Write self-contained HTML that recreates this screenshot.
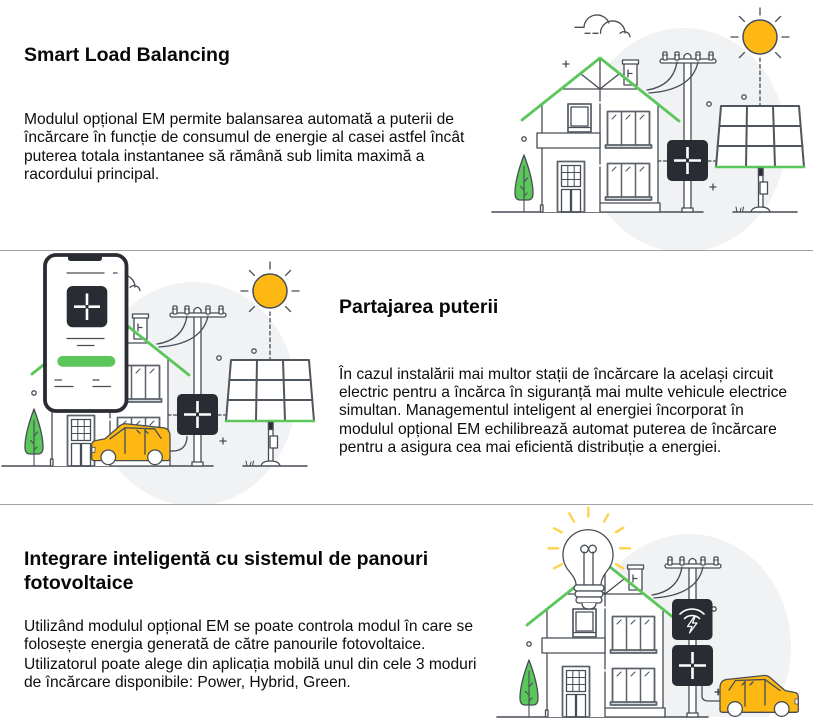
<!DOCTYPE html>
<html><head><meta charset="utf-8">
<style>
html,body{margin:0;padding:0;background:#fff;width:813px;height:718px;overflow:hidden;position:relative}
svg{position:absolute;left:0;top:0;display:block}
.t{position:absolute;font-family:"Liberation Sans",sans-serif;color:#0c0c0c;white-space:nowrap}
.h{font-weight:bold;font-size:19.5px;line-height:23.5px;color:#080808}
.p{font-size:15.6px;line-height:18.4px}
</style></head><body>
<svg width="813" height="718" viewBox="0 0 813 718" xmlns="http://www.w3.org/2000/svg">
<defs>
<clipPath id="c1"><rect x="0" y="0" width="813" height="250"/></clipPath>
<clipPath id="c2"><rect x="0" y="251" width="813" height="253"/></clipPath>
<clipPath id="c3"><rect x="0" y="505" width="813" height="213"/></clipPath>

<g id="house">
<g fill="none" stroke="#474d55" stroke-width="1.3" stroke-linecap="round" stroke-linejoin="round">
<line x1="492" y1="212" x2="703" y2="212" stroke-width="1.6"/>
<path d="M542,104 L600,58 L658,104 L658,212 L542,212 Z" fill="#fff" stroke="none"/>
<line x1="542" y1="104" x2="542" y2="212"/>
<line x1="658" y1="104" x2="658" y2="203"/>
<rect x="624" y="63" width="13" height="22" fill="#fff"/>
<rect x="622.5" y="60" width="16" height="4" fill="#fff"/>
<path d="M628,70 V77 M628,73.5 H632"/>
<path d="M563,89 H637 M581,74 L600,89 L619,74 M600,58 V89"/>
<line x1="600" y1="89" x2="600" y2="203" stroke-dasharray="12,3,60,3,200"/>
<rect x="537" y="133" width="63" height="15" fill="#fff"/>
<rect x="568" y="104" width="23" height="28" fill="#fff" stroke="#5d636b" stroke-width="1.8"/>
<rect x="571" y="107" width="17" height="19"/>
<line x1="569" y1="127.5" x2="590" y2="127.5"/>
<g stroke="#5d636b" stroke-width="1.8" fill="#fff">
<rect x="607.5" y="111.5" width="42" height="34"/>
<rect x="607.5" y="163.5" width="42" height="34"/>
<rect x="605.5" y="145" width="46" height="3" fill="#d5d8dc"/>
<rect x="605.5" y="197" width="46" height="3" fill="#d5d8dc"/>
</g>
<path d="M621.5,111.5 V145.5 M635.5,111.5 V145.5 M621.5,163.5 V197.5 M635.5,163.5 V197.5" stroke="#5d636b" stroke-width="1.5"/>
<path d="M612,119 L616,115 M626,119 L630,115 M640,119 L644,115 M612,171 L616,167 M626,171 L630,167 M640,171 L644,167" stroke-width="1"/>
<rect x="557.5" y="161.5" width="27" height="50.5" fill="#fff" stroke="#5d636b" stroke-width="1.8"/>
<rect x="561.5" y="165.5" width="19" height="21"/>
<path d="M567.8,165.5 V186.5 M574.2,165.5 V186.5 M561.5,172.5 H580.5 M561.5,179.5 H580.5" stroke-width="1"/>
<rect x="561.5" y="189.5" width="9" height="22.5"/>
<rect x="571.5" y="189.5" width="9" height="22.5"/>
<rect x="600" y="203" width="60" height="9" fill="#fff"/>
<rect x="540.5" y="205" width="2.5" height="7" fill="#fff"/>
<polyline points="522,120 600,58 679,121" stroke="#5bc65a" stroke-width="2.8"/>
<path d="M524,155 C521,163 515,180 515,193 Q515,200 520,200 H528 Q533,200 533,193 C533,180 527,163 524,155 Z" fill="#5bc65a"/>
<path d="M524,166 V212 M524,182 L527.5,178 M524,190 L520.5,186.5 M524,196 L527,193" stroke-width="1.1"/>
<path d="M684,211 V56 Q687.5,51 691,56 V211" fill="#fff"/>
<rect x="682" y="208" width="11" height="4" fill="#fff"/>
<rect x="660" y="59" width="56" height="4" rx="2" fill="#fff"/>
<g fill="#fff">
<rect x="663" y="52" width="4" height="8" rx="1"/>
<rect x="675" y="52" width="4" height="8" rx="1"/>
<rect x="696" y="52" width="4" height="8" rx="1"/>
<rect x="709" y="52" width="4" height="8" rx="1"/>
</g>
<path d="M662.5,55 H667.5 M674.5,55 H679.5 M695.5,55 H700.5 M708.5,55 H713.5" stroke-width="1"/>
<path d="M677,62 Q673,86 647,90 M698,62 Q692,90 649,93"/>
<circle cx="524" cy="139" r="2.2" fill="#fff"/>
<circle cx="709" cy="104" r="2.2" fill="#fff"/>
<path d="M563,64 H569 M566,61 V67 M710,187 H716 M713,184 V190"/>
<rect x="667" y="140" width="41" height="41" rx="5" fill="#2a2c33" stroke="none"/>
<path d="M674,160.5 H686 M689,160.5 H701 M687.5,147 V158.5 M687.5,162.5 V174" stroke="#fff" stroke-width="2.6" stroke-linecap="butt"/>
</g>
</g>

<g id="solar" fill="none" stroke="#474d55" stroke-width="1.3" stroke-linecap="round" stroke-linejoin="round">
<line x1="658" y1="161" x2="667" y2="161" stroke-dasharray="3,2.5"/>
<line x1="708" y1="161" x2="718" y2="161" stroke-dasharray="3,2.5"/>
<line x1="760" y1="58" x2="760" y2="105" stroke-dasharray="3.5,3"/>
<circle cx="760" cy="37" r="17" fill="#fdb813" stroke-width="1.5"/>
<path d="M760,15 V8 M744.4,21.4 L739.5,16.5 M775.6,21.4 L780.5,16.5 M738,37 H731 M782,37 H789 M744.4,52.6 L739.5,57.5 M775.6,52.6 L780.5,57.5"/>
<circle cx="744" cy="97" r="2.2" fill="#fff"/>
<polygon points="721,106 799,106 804,167 716,167" fill="#fff" stroke="#50565e" stroke-width="2"/>
<path d="M719.4,126 H800.6 M717.7,146 H802.4 M747,106 L746,167 M773,106 L775,167" stroke="#50565e" stroke-width="2"/>
<line x1="716" y1="167" x2="804" y2="167" stroke="#5bc65a" stroke-width="2.6"/>
<rect x="758.5" y="168.5" width="4.5" height="40" fill="#fff"/>
<rect x="758.5" y="168.5" width="4.5" height="7" fill="#2a2c33"/>
<rect x="760" y="182" width="7.5" height="12" fill="#fff"/>
<path d="M751,212 Q752,207 760.5,207 Q769,207 770,212" fill="#fff"/>
<line x1="733" y1="212" x2="797" y2="212" stroke-width="1.6"/>
<path d="M737,212 L736,207 M740,212 L741,208 M742.5,212 L743.5,207" stroke-width="1"/>
</g>

<g id="cloud" fill="none" stroke="#474d55" stroke-width="1.3" stroke-linecap="round">
<path d="M575,27.3 H583 M584,27.3 A13,13 0 0 1 609,23 M600.5,33.3 A12,12 0 0 1 625,33 M620,33.3 A6,6 0 0 1 630,36.7 M585,33.3 H590 M593,33.3 H598"/>
</g>

<g id="car" stroke="#474d55" stroke-width="1.3" stroke-linecap="round" stroke-linejoin="round">
<path d="M0,13 Q0,5.5 6.5,4.5 L44,0.5 Q47.5,0.3 50,2.5 L65,15.5 L75,17.5 Q78.3,18.2 78.3,22 L78.3,35 Q78.3,37.3 76,37.3 L2.5,37.3 Q0,37.3 0,35 Z" fill="#fdb813"/>
<path d="M9,15 L15.5,5.5 L45,4.5 L60,15.5 M25,6 V31 M45,4.5 V30 M22,10 L25,7 M30,10 L33,7" fill="none"/>
<rect x="75" y="24" width="3" height="5" fill="#fff" stroke-width="0.8"/>
<circle cx="15" cy="34" r="7.3" fill="#fff"/>
<circle cx="61.7" cy="34" r="7.3" fill="#fff"/>
</g>
</defs>

<!-- Illustration 1 -->
<g clip-path="url(#c1)">
<ellipse cx="684" cy="140" rx="102" ry="112" fill="#f1f2f4"/>
<use href="#house"/>
<use href="#solar"/>
<use href="#cloud"/>
</g>

<!-- Illustration 2 -->
<g clip-path="url(#c2)">
<ellipse cx="194" cy="394" rx="102" ry="112" fill="#f1f2f4"/>
<g transform="translate(-490,254)">
<use href="#house"/>
<use href="#solar"/>
<use href="#cloud"/>
</g>
<path d="M170,451 Q187,452 187,436" fill="none" stroke="#474d55" stroke-width="1.3"/>
<g transform="translate(170,423.3) scale(-1,1)"><use href="#car"/></g>
<rect x="45" y="255" width="81.5" height="156" rx="11" fill="#fff" stroke="#2a2c33" stroke-width="3.8"/>
<path d="M68,255 L102,255 L102,258 Q102,261 99,261 L71,261 Q68,261 68,258 Z" fill="#2a2c33"/>
<g stroke="#474d55" stroke-width="1.3" stroke-linecap="round">
<path d="M67,273 H104 M113.5,273 H117 M67,338.5 H104 M77.5,345.5 H94 M55,380 H61.5 M93,380 H99 M55,386.5 H73 M93,386.5 H110.5"/>
</g>
<rect x="66.7" y="286" width="40.6" height="41.3" rx="6" fill="#2a2c33"/>
<path d="M74,306.7 H85.5 M88.5,306.7 H100 M87,293.5 V305 M87,308.5 V320" stroke="#fff" stroke-width="2.6"/>
<rect x="57.3" y="356" width="58" height="10.7" rx="5.35" fill="#5bc65a"/>
</g>

<!-- Illustration 3 -->
<g clip-path="url(#c3)">
<path d="M610.1,717 A102,112 0 1 1 767.9,717 Z" fill="#f1f2f4"/>
<g transform="translate(5,505)">
<use href="#house"/>
</g>
<g fill="none" stroke="#474d55" stroke-width="1.3" stroke-linecap="round" stroke-linejoin="round">
<path d="M569,571 A25,25 0 1 1 607,571 C603,576 601,580 601,585 L576,585 C576,580 573,576 569,571 Z" fill="#fff"/>
<path d="M584,585 V552 M593,585 V552"/>
<circle cx="584.5" cy="549" r="3.8"/>
<circle cx="592.5" cy="549" r="3.8"/>
<rect x="574" y="585" width="30" height="6" rx="3" fill="#fff"/>
<rect x="575" y="591" width="28" height="6" rx="3" fill="#fff"/>
<rect x="576" y="597" width="26" height="6" rx="3" fill="#fff"/>
<path d="M582,603 Q582,609 589,609 Q596,609 596,603" fill="#fff"/>
<path d="M702,686 V696 Q702,701 709,701 H721"/>
<path d="M716,692 H721 M718.5,689.5 V694.5"/>
</g>
<g stroke="#fdd34d" stroke-width="2.4" stroke-linecap="round">
<path d="M588.3,507.7 V516.7 M569.3,513.3 L574,521.7 M608.3,514.3 L604,521.7 M554,528.3 L561.7,532.3 M623.3,527.7 L616,532.3 M548.3,548.3 H558.3 M620,548.3 H630 M554,568.3 L561.7,564.3 M616,564.3 L623.3,568.3"/>
</g>
<rect x="672" y="599" width="40.5" height="41" rx="5" fill="#2a2c33"/>
<g fill="none" stroke="#fff" stroke-width="1.6" stroke-linecap="round" stroke-linejoin="round">
<path d="M680,614 A17,17 0 0 1 704,614"/>
<path d="M684.5,618.5 A11,11 0 0 1 699.5,618.5"/>
<path d="M694,617 L687.5,626.5 L692,626.5 L689.5,633 L697,623 L692.5,623 L695,617 Z" stroke-width="1.2"/>
</g>
<g transform="translate(720,675)"><use href="#car"/></g>
</g>

<line x1="0" y1="250.5" x2="813" y2="250.5" stroke="#a3a3a3" stroke-width="1"/>
<line x1="0" y1="504.5" x2="813" y2="504.5" stroke="#a3a3a3" stroke-width="1"/>
</svg>

<div class="t h" style="left:24px;top:44px">Smart Load Balancing</div>
<div class="t p" style="left:24px;top:111px">Modulul opțional EM permite balansarea automată a puterii de<br>încărcare în funcție de consumul de energie al casei astfel încât<br>puterea totala instantanee să rămână sub limita maximă a<br>racordului principal.</div>

<div class="t h" style="left:339px;top:296px">Partajarea puterii</div>
<div class="t p" style="left:339px;top:365.5px">În cazul instalării mai multor stații de încărcare la același circuit<br>electric pentru a încărca în siguranță mai multe vehicule electrice<br>simultan. Managementul inteligent al energiei încorporat în<br>modulul opțional EM echilibrează automat puterea de încărcare<br>pentru a asigura cea mai eficientă distribuție a energiei.</div>

<div class="t h" style="left:24px;top:548px">Integrare inteligentă cu sistemul de panouri<br>fotovoltaice</div>
<div class="t p" style="left:24px;top:617.5px">Utilizând modulul opțional EM se poate controla modul în care se<br>folosește energia generată de către panourile fotovoltaice.</div>
<div class="t p" style="left:24px;top:655.5px">Utilizatorul poate alege din aplicația mobilă unul din cele 3 moduri<br>de încărcare disponibile: Power, Hybrid, Green.</div>
</body></html>
